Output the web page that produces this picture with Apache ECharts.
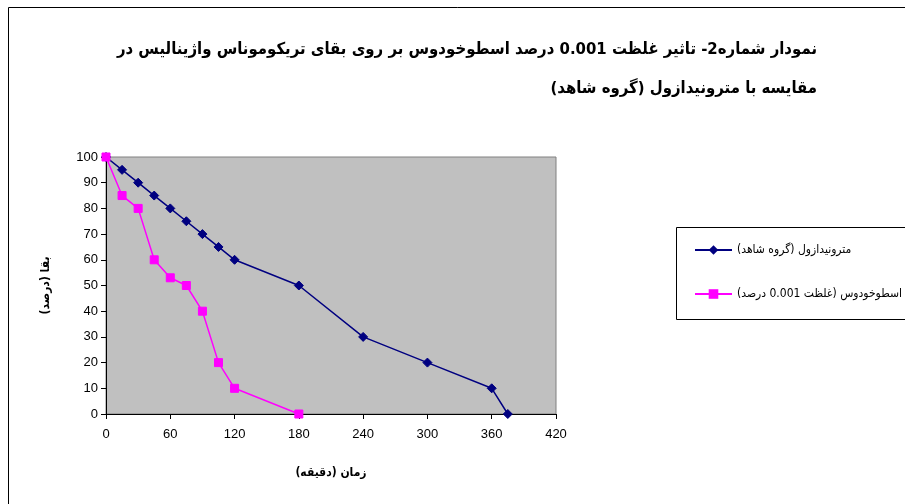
<!DOCTYPE html>
<html>
<head>
<meta charset="utf-8">
<script src="https://cdn.jsdelivr.net/npm/echarts@6/dist/echarts.min.js"></script>
<style>
html,body{margin:0;padding:0;background:#fff;}
#c{width:905px;height:504px;}
</style>
</head>
<body>
<div id="c" dir="rtl"></div>
<script>
const titleLines = ['نمودار شماره2- تاثیر غلظت 0.001 درصد اسطوخودوس بر روی بقای تریکوموناس واژینالیس در', 'مقایسه با مترونیدازول (گروه شاهد)'];
const xAxisName = 'زمان (دقیقه)';
const yAxisName = 'بقا (درصد)';
const seriesNames = ['مترونیدازول (گروه شاهد)', 'اسطوخودوس (غلظت 0.001 درصد)'];
const controlTimes = [0, 15, 30, 45, 60, 75, 90, 105, 120, 180, 240, 300, 360, 375];
const controlSurvival = [100, 95, 90, 85, 80, 75, 70, 65, 60, 50, 30, 20, 10, 0];
const herbTimes = [0, 15, 30, 45, 60, 75, 90, 105, 120, 180];
const herbSurvival = [100, 85, 80, 60, 53, 50, 40, 20, 10, 0];

const zip = (xs, ys) => xs.map((x, i) => [x, ys[i]]);
const chart = echarts.init(document.getElementById('c'), null, {renderer: 'canvas'});
const faFont = '"DejaVu Sans Condensed","DejaVu Sans",sans-serif';
const titleStyle = {fontFamily: faFont, fontWeight: 'bold', fontSize: 16.6, color: '#000'};
chart.setOption({
  backgroundColor: '#fff',
  animation: false,
  title: titleLines.map((t, i) => ({
    text: t, right: 88, top: 41 + i * 39, padding: 0,
    textStyle: titleStyle
  })),
  graphic: [
    {type: 'rect', shape: {x: 8.5, y: 7.5, width: 1000, height: 1000}, style: {fill: null, stroke: '#000', lineWidth: 1}, silent: true, z: 100},
    {type: 'rect', shape: {x: 676.5, y: 227.5, width: 300, height: 92}, style: {fill: null, stroke: '#000', lineWidth: 1}, silent: true, z: 100}
  ],
  legend: {
    orient: 'vertical',
    left: 694, top: 244, padding: 0,
    itemWidth: 37, itemHeight: 12,
    itemGap: 32,
    textStyle: {fontFamily: faFont, fontSize: 12, color: '#000'},
    data: seriesNames
  },
  grid: {
    left: 106, right: 349, top: 157, bottom: 90,
    show: true, backgroundColor: '#c0c0c0', borderColor: '#808080', borderWidth: 1
  },
  xAxis: {
    type: 'value', min: 0, max: 420, interval: 60,
    name: xAxisName, nameLocation: 'middle', nameGap: 53,
    nameTextStyle: {fontFamily: faFont, fontWeight: 'bold', fontSize: 12, color: '#000'},
    axisLine: {show: true, lineStyle: {color: '#000', width: 1}},
    axisTick: {show: true, length: 5, lineStyle: {color: '#000'}},
    axisLabel: {fontFamily: 'Liberation Sans, Arial, sans-serif', fontSize: 13, color: '#000', margin: 14},
    splitLine: {show: false}
  },
  yAxis: {
    type: 'value', min: 0, max: 100, interval: 10,
    name: yAxisName, nameLocation: 'middle', nameGap: 54, nameRotate: 90,
    nameTextStyle: {fontFamily: faFont, fontWeight: 'bold', fontSize: 12, color: '#000'},
    axisLine: {show: true, lineStyle: {color: '#000', width: 1}},
    axisTick: {show: true, length: 5, lineStyle: {color: '#000'}},
    axisLabel: {fontFamily: 'Liberation Sans, Arial, sans-serif', fontSize: 13, color: '#000', margin: 8},
    splitLine: {show: false}
  },
  series: [
    {
      name: seriesNames[0], type: 'line', data: zip(controlTimes, controlSurvival),
      symbol: 'diamond', symbolSize: 9,
      lineStyle: {color: '#000080', width: 1.5},
      itemStyle: {color: '#000080', borderColor: '#000080'}
    },
    {
      name: seriesNames[1], type: 'line', data: zip(herbTimes, herbSurvival),
      symbol: 'rect', symbolSize: 8,
      lineStyle: {color: '#ff00ff', width: 1.5},
      itemStyle: {color: '#ff00ff', borderColor: '#ff00ff'}
    }
  ]
});
</script>
</body>
</html>
